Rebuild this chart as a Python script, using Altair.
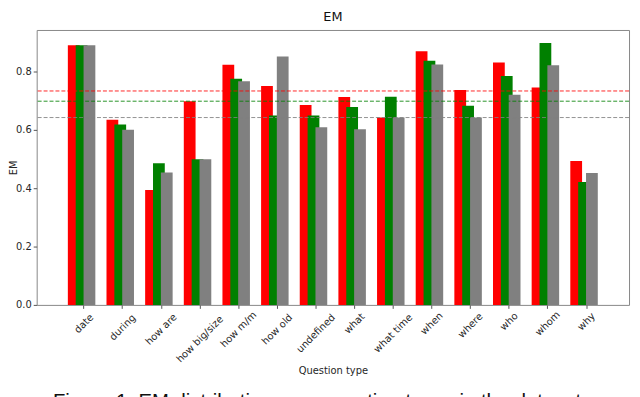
import json
import altair as alt
import pandas as pd

# ---- data ----
categories = ["date", "during", "how are", "how big/size", "how m/m", "how old",
              "undefined", "what", "what time", "when", "where", "who", "whom", "why"]
em_red = [0.890, 0.634, 0.394, 0.698, 0.823, 0.750, 0.685, 0.712, 0.642, 0.869, 0.736, 0.831, 0.745, 0.493]
em_green = [0.890, 0.618, 0.485, 0.499, 0.775, 0.649, 0.649, 0.678, 0.713, 0.837, 0.682, 0.784, 0.897, 0.421]
em_gray = [0.890, 0.600, 0.454, 0.499, 0.766, 0.851, 0.609, 0.602, 0.642, 0.824, 0.642, 0.720, 0.821, 0.452]
series = ["red", "green", "gray"]
overall_em = [0.733, 0.698, 0.642]
colors = ["#ff0000", "#008000", "#808080"]
caption = "Figure 1: EM distribution over question types in the dataset"

W, H = 599, 278
FONT = "DejaVu Sans"

x_scale = alt.Scale(domain=[-1.085, 13.985], nice=False, zero=False)
y_scale = alt.Scale(domain=[0, 0.942], nice=False)

cat_js = json.dumps(categories)
x_axis = alt.Axis(
    values=list(range(len(categories))),
    labelExpr=f"{cat_js}[datum.value]",
    labelAngle=315, labelAlign="center", labelBaseline="middle",
    labelPadding=alt.ExprRef(f"3.5 + (length({cat_js}[datum.value]) * 5.6 + 10) * 0.354"),
    labelFlush=False, labelOverlap=False, labelBound=False,
    labelFont=FONT, labelFontSize=10, labelColor="#262626",
    tickSize=3.5, tickColor="#555", domain=False, grid=False,
    title="Question type", titleFont=FONT, titleFontSize=10, titleFontWeight="normal",
    titleColor="#262626", titleY=61, titleBaseline="top",
)
y_axis = alt.Axis(
    values=[0, 0.2, 0.4, 0.6, 0.8], format=".1f",
    labelFont=FONT, labelFontSize=10, labelColor="#262626", labelPadding=2,
    tickSize=3.5, tickColor="#555", domain=False, grid=False,
    title="EM", titleFont=FONT, titleFontSize=10, titleFontWeight="normal",
    titleColor="#262626", titleX=-28, titleBaseline="top", titleAngle=270,
)

bar_layers = []
offsets = [-9.94, -1.99, 5.96]
for name, vals, col, off in zip(series, [em_red, em_green, em_gray], colors, offsets):
    df = pd.DataFrame({"idx": list(range(len(categories))), "category": categories,
                       "em": vals, "series": name})
    bar_layers.append(
        alt.Chart(df).mark_bar(width=11.9, xOffset=off, color=col).encode(
            x=alt.X("idx:Q", scale=x_scale, axis=x_axis),
            y=alt.Y("em:Q", scale=y_scale, axis=y_axis),
        )
    )

lines_df = pd.DataFrame({"series": series, "em": overall_em})
rules = alt.Chart(lines_df).mark_rule(strokeDash=[4, 2], strokeWidth=1, opacity=0.85).encode(
    y=alt.Y("em:Q", scale=y_scale),
    color=alt.Color("series:N", scale=alt.Scale(domain=series, range=colors), legend=None),
)

cap = alt.Chart(pd.DataFrame({"t": [caption]})).mark_text(
    font="Liberation Sans", fontSize=20.5, baseline="top", align="center", color="#111"
).encode(text="t:N", x=alt.value(W / 2 - 16), y=alt.value(366))

chart = alt.layer(*bar_layers, rules, cap).properties(
    width=W, height=H,
    title=alt.TitleParams("EM", font=FONT, fontSize=13, fontWeight="normal", color="#111", offset=6),
    autosize=alt.AutoSizeParams(type="none"),
    padding={"left": 29, "top": 20, "right": 3, "bottom": 100},
).configure_view(stroke="#888", strokeWidth=1)

chart.save("out.html", embed_options={"renderer": "svg", "actions": False})
